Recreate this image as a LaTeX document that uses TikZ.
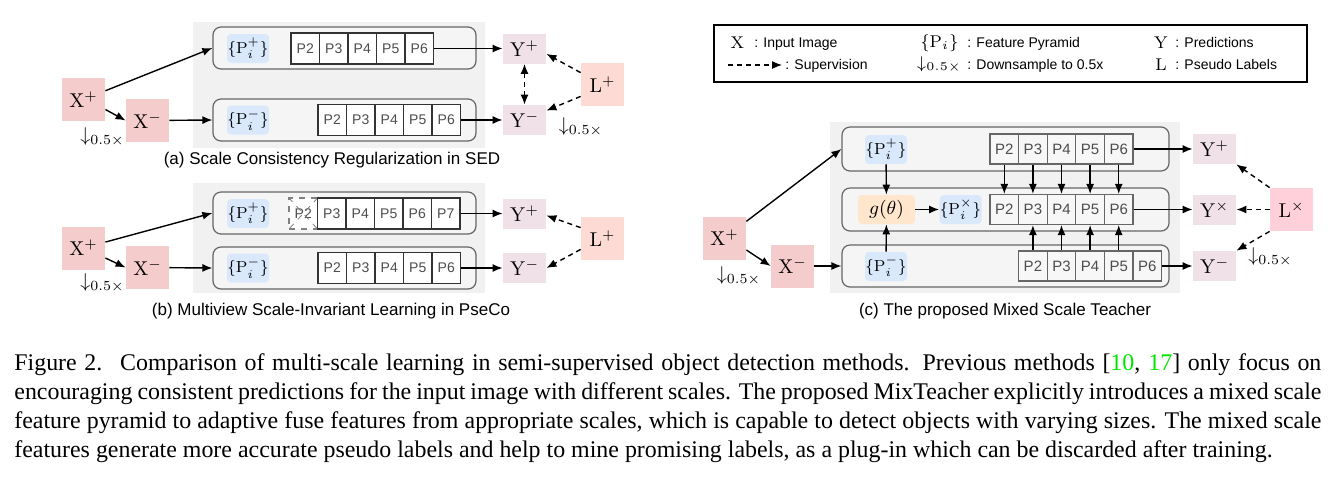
\documentclass[tikz,border=0pt]{standalone}
\usepackage{fix-cm}
\usepackage[no-math]{fontspec}
\setmainfont{Liberation Serif}
\setsansfont{Liberation Sans}
\usetikzlibrary{arrows.meta, positioning, calc}
\definecolor{xred}{RGB}{244,204,204}
\definecolor{ypink}{RGB}{240,224,232}
\definecolor{lsalmon}{RGB}{253,218,211}
\definecolor{lpink}{RGB}{255,208,218}
\definecolor{pblue}{RGB}{218,232,252}
\definecolor{gorange}{RGB}{255,230,204}
\definecolor{bggray}{RGB}{241,241,241}
\definecolor{rowgray}{RGB}{245,245,245}
\definecolor{linegray}{RGB}{102,102,102}
\definecolor{textgray}{RGB}{77,77,77}
\definecolor{citegreen}{RGB}{0,230,0}

\begin{document}
\begin{tikzpicture}[x=0.5pt, y=-0.5pt,
    arr/.style={-{Latex[length=5pt,width=4pt]}, line width=0.7pt},
    sup/.style={-{Latex[length=5pt,width=4pt]}, line width=0.7pt, dash pattern=on 2.5pt off 2pt},
    inbox/.style={fill=xred, minimum width=21.5pt, minimum height=21.5pt, inner sep=0pt, font=\fontsize{10}{12}\selectfont},
    outbox/.style={fill=ypink, minimum width=21.5pt, minimum height=15pt, inner sep=0pt, font=\fontsize{10}{12}\selectfont},
    lblbox/.style={fill=lsalmon, minimum width=21.5pt, minimum height=21.5pt, inner sep=0pt, font=\fontsize{10}{12}\selectfont},
    feat/.style={fill=pblue, rounded corners=2pt, minimum width=21pt, minimum height=14.5pt, inner sep=0pt, font=\fontsize{8}{10}\selectfont},
    cell/.style={draw=black!80, fill=white, line width=0.6pt, minimum width=14.25pt, minimum height=15.5pt, inner sep=0pt, font=\sffamily\fontsize{7}{8}\selectfont, text=textgray},
    cellc/.style={cell, draw=linegray, fill=white!97!black, minimum width=14.3pt, minimum height=15pt, font=\sffamily\fontsize{7.5}{8}\selectfont},
    row/.style={draw=linegray, fill=rowgray, line width=0.6pt, rounded corners=4pt, inner sep=0pt, minimum width=131.5pt, minimum height=21pt},
    note/.style={inner sep=0pt, font=\fontsize{10}{12}\selectfont},
    subcap/.style={inner sep=0pt, font=\sffamily\fontsize{8.5}{10}\selectfont},
    leg/.style={anchor=west, inner sep=0pt, text height=5.5pt, text depth=1.5pt, font=\sffamily\fontsize{7}{8}\selectfont},
    legm/.style={inner sep=0pt, font=\fontsize{8.5}{10}\selectfont}]

    \useasboundingbox (0,0) rectangle (1336,478);

    % Panel backgrounds
    \fill[bggray] (193,22) rectangle (485,148);
    \fill[bggray] (193,183) rectangle (485,293);
    \fill[bggray] (830,122) rectangle (1180,293);

    % (a) Scale consistency regularization
    \node[row] (rowAp) at (344.5,48) {};
    \node[row] (rowAm) at (344.5,120) {};
    \node[feat] (fpA) at (248,48.5) {$\{\mathrm{P}_i^{+}\}$};
    \node[feat] (fmA) at (248,120) {$\{\mathrm{P}_i^{-}\}$};
    \foreach \n [count=\k] in {2,...,6} {
        \node[cell] (at\n) at ({276.75+28.5*\k},48.5) {P\n};
        \node[cell] (ab\n) at ({303.75+28.5*\k},120) {P\n};
    }
    \node[inbox] (xpA) at (83.5,99.5) {$\mathrm{X}^{+}$};
    \node[inbox] (xmA) at (147.5,120.5) {$\mathrm{X}^{-}$};
    \node[outbox] (ypA) at (524.5,48.5) {$\mathrm{Y}^{+}$};
    \node[outbox] (ymA) at (524.5,120) {$\mathrm{Y}^{-}$};
    \node[lblbox] (lA) at (602.5,84.5) {$\mathrm{L}^{+}$};
    \node[note] (dxA) at (102.5,137) {$\downarrow_{0.5\times}$};
    \node[note] (dlA) at (581,127) {$\downarrow_{0.5\times}$};

    \draw[arr] (xpA) -- (rowAp.west);
    \draw[arr] ([yshift=-5pt]xpA.east) -- (xmA.west);
    \draw[arr] (xmA) -- (rowAm.west);
    \draw[arr] (at6) -- (ypA);
    \draw[arr] (ab6) -- (ymA);
    \draw[sup, {Latex[length=5pt,width=4pt]}-{Latex[length=5pt,width=4pt]}] (ypA) -- (ymA);
    \draw[sup] ([yshift=-5pt]lA.north west) -- ([yshift=5pt]ypA.south east);
    \draw[sup] ([yshift=5pt]lA.south west) -- ([yshift=-3pt]ymA.north east);

    \node[subcap] (capA) at (332,160) {(a) Scale Consistency Regularization in SED};

    % (b) Multiview scale-invariant learning
    \node[row] (rowBp) at (344.5,213) {};
    \node[row] (rowBm) at (344.5,268) {};
    \node[feat] (fpB) at (248,213.5) {$\{\mathrm{P}_i^{+}\}$};
    \node[feat] (fmB) at (248,268) {$\{\mathrm{P}_i^{-}\}$};
    \node[cell, draw=gray, dashed] (bt2) at (303.25,213.5) {P2};
    \draw[gray, dashed, line width=0.4pt] (bt2.north west) -- (bt2.south east) (bt2.north east) -- (bt2.south west);
    \foreach \n [count=\k] in {3,...,7} {
        \node[cell] (bt\n) at ({303.25+28.5*\k},213.5) {P\n};
    }
    \foreach \n [count=\k] in {2,...,6} {
        \node[cell] (bb\n) at ({303.75+28.5*\k},268) {P\n};
    }
    \node[inbox] (xpB) at (83.5,248) {$\mathrm{X}^{+}$};
    \node[inbox] (xmB) at (147.5,267.5) {$\mathrm{X}^{-}$};
    \node[outbox] (ypB) at (524.5,213.5) {$\mathrm{Y}^{+}$};
    \node[outbox] (ymB) at (524.5,268) {$\mathrm{Y}^{-}$};
    \node[lblbox] (lB) at (602.5,238.5) {$\mathrm{L}^{+}$};
    \node[note] (dxB) at (102.5,283) {$\downarrow_{0.5\times}$};

    \draw[arr] (xpB) -- (rowBp.west);
    \draw[arr] ([yshift=-5pt]xpB.east) -- (xmB.west);
    \draw[arr] (xmB) -- (rowBm.west);
    \draw[arr] (bt7) -- (ypB);
    \draw[arr] (bb6) -- (ymB);
    \draw[sup] ([yshift=-5.5pt]lB.north west) -- ([yshift=-1pt]ypB.east);
    \draw[sup] ([yshift=5.5pt]lB.south west) -- (ymB.east);

    \node[subcap] (capB) at (331,311) {(b) Multiview Scale-Invariant Learning in PseCo};

    % Legend
    \node[draw, line width=0.8pt, minimum width=296.5pt, minimum height=28.5pt] (legend) at (1010.5,53.5) {};
    \node[legm] (lgX) at (737.5,43) {$\mathrm{X}$};
    \node[leg] (lgXt) at (754,43) {: Input Image};
    \coordinate (lgs) at (728,65);
    \coordinate (lge) at (782,65);
    \draw[sup, line width=0.6pt] (lgs) -- (lge);
    \node[leg] (lgSt) at (785,65) {: Supervision};
    \node[legm] (lgP) at (939.5,43) {$\{\mathrm{P}_i\}$};
    \node[leg] (lgPt) at (967,43) {: Feature Pyramid};
    \node[legm] (lgD) at (939.5,65) {$\downarrow_{0.5\times}$};
    \node[leg] (lgDt) at (967,65) {: Downsample to 0.5x};
    \node[legm] (lgY) at (1161,43) {$\mathrm{Y}$};
    \node[leg] (lgYt) at (1175,43) {: Predictions};
    \node[legm] (lgL) at (1161,65) {$\mathrm{L}$};
    \node[leg] (lgLt) at (1175,65) {: Pseudo Labels};

    % (c) Mixed scale teacher
    \node[row, minimum width=163.5pt, minimum height=22pt] (rowCp) at (1005.5,149) {};
    \node[row, minimum width=163.5pt, minimum height=21.5pt] (rowCx) at (1005.5,209.5) {};
    \node[row, minimum width=163.5pt, minimum height=21pt] (rowCm) at (1005.5,266) {};
    \node[feat] (fpC) at (886,149.5) {$\{\mathrm{P}_i^{+}\}$};
    \node[feat, fill=gorange, minimum width=28.5pt, font=\fontsize{9.5}{11}\selectfont] (gC) at (886.5,209.5) {$g(\theta)$};
    \node[feat] (fxC) at (960.5,209.5) {$\{\mathrm{P}_i^{\times}\}$};
    \node[feat] (fmC) at (886,266.5) {$\{\mathrm{P}_i^{-}\}$};
    \foreach \n [count=\k] in {2,...,6} {
        \node[cellc] (ct\n) at ({975.7+28.6*\k},149) {P\n};
        \node[cellc] (cm\n) at ({975.7+28.6*\k},209.5) {P\n};
        \node[cellc] (cb\n) at ({1004.3+28.6*\k},266) {P\n};
    }
    \foreach \n in {2,...,6} \draw[arr] (ct\n) -- (cm\n);
    \foreach \n/\m in {2/3,3/4,4/5,5/6} \draw[arr] (cb\n) -- (cm\m);

    \node[inbox] (xpC) at (724.5,238) {$\mathrm{X}^{+}$};
    \node[inbox] (xmC) at (792.5,266) {$\mathrm{X}^{-}$};
    \node[outbox] (ypC) at (1214.5,149) {$\mathrm{Y}^{+}$};
    \node[outbox] (yxC) at (1214.5,209.5) {$\mathrm{Y}^{\times}$};
    \node[outbox] (ymC) at (1214.5,266) {$\mathrm{Y}^{-}$};
    \node[lblbox, fill=lpink] (lC) at (1291.5,209.5) {$\mathrm{L}^{\times}$};
    \node[note] (dxC) at (739,276) {$\downarrow_{0.5\times}$};
    \node[note] (dlC) at (1270.5,257) {$\downarrow_{0.5\times}$};

    \draw[arr] (xpC) -- (rowCp.west);
    \draw[arr] ([yshift=-6pt]xpC.east) -- (xmC.west);
    \draw[arr] (xmC) -- (rowCm.west);
    \draw[arr] (fpC) -- (gC);
    \draw[arr] (fmC) -- (gC);
    \draw[arr] (gC) -- (fxC);
    \draw[arr] (ct6) -- (ypC);
    \draw[arr] (cm6) -- (yxC);
    \draw[arr] (cb6) -- (ymC);
    \draw[sup] (lC.north west) -- (ypC.south east);
    \draw[sup] (lC) -- (yxC);
    \draw[sup] (lC.south west) -- (ymC.north east);

    \node[subcap] (capC) at (1005,311) {(c) The proposed Mixed Scale Teacher};

    % Figure caption
    \node[anchor=base west, inner sep=0pt] (caption) at (14,370) {\parbox[t]{653.5pt}{\fontsize{11.95}{14.5}\selectfont\hyphenpenalty=10000
    Figure 2.\hspace{0.2em} Comparison of multi-scale learning in semi-supervised object detection methods.  Previous methods [\textcolor{citegreen}{10}, \textcolor{citegreen}{17}] only focus on\linebreak
    encouraging consistent predictions for the input image with different scales. The proposed MixTeacher explicitly introduces a mixed scale\linebreak
    feature pyramid to adaptive fuse features from appropriate scales, which is capable to detect objects with varying sizes. The mixed scale\linebreak
    features generate more accurate pseudo labels and help to mine promising labels, as a plug-in which can be discarded after training.}};

\end{tikzpicture}
\end{document}
